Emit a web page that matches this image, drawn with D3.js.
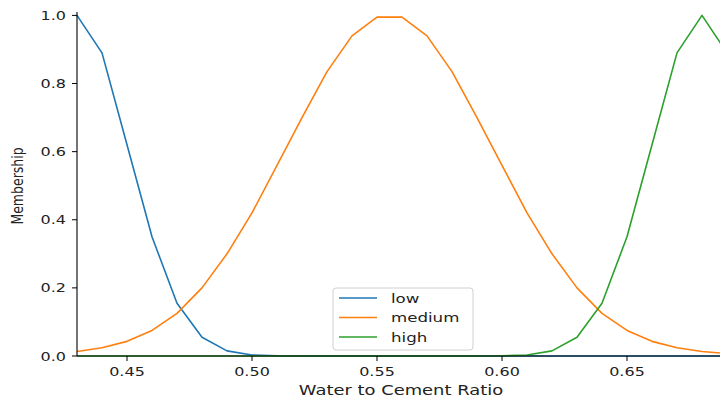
<!DOCTYPE html>
<html><head><meta charset="utf-8">
<script src="https://cdn.jsdelivr.net/npm/d3@7"></script>
<style>body{margin:0;background:#fff}svg{display:block}</style>
</head><body>
<script>
const xValues = [0.43,0.44,0.45,0.46,0.47,0.48,0.49,0.50,0.51,0.52,0.53,0.54,0.55,0.56,0.57,0.58,0.59,0.60,0.61,0.62,0.63,0.64,0.65,0.66,0.67,0.68,0.69];
const lowValues = [1.0,0.89,0.62,0.35,0.155,0.055,0.015,0.003,0.0006,0,0,0,0,0,0,0,0,0,0,0,0,0,0,0,0,0,0];
const mediumValues = [0.013,0.024,0.043,0.075,0.125,0.20,0.30,0.42,0.56,0.70,0.835,0.94,0.995,0.995,0.94,0.835,0.70,0.56,0.42,0.30,0.20,0.125,0.075,0.043,0.024,0.013,0.007];
const highValues = [0,0,0,0,0,0,0,0,0,0,0,0,0,0,0,0,0,0.0006,0.003,0.015,0.055,0.155,0.35,0.62,0.89,1.0,0.89];
const seriesNames = ["low","medium","high"];
const seriesColors = ["#1f77b4","#ff7f0e","#2ca02c"];
const xTicks = [0.45,0.50,0.55,0.60,0.65];
const yTicks = [0.0,0.2,0.4,0.6,0.8,1.0];
const xLabel = "Water to Cement Ratio";
const yLabel = "Membership";

const W = 720, H = 400;
const svg = d3.select("body").append("svg").attr("width", W).attr("height", H);
const x = d3.scaleLinear().domain([0.43, 0.69]).range([77, 727]);
const y = d3.scaleLinear().domain([0, 1.01]).range([356, 12]);
const SX = 1.28;
const font = "DejaVu Sans, sans-serif";

const series = [lowValues, mediumValues, highValues];
const line = d3.line().x((d,i)=>x(xValues[i])).y(d=>y(d));
series.forEach((vals, k) => {
  svg.append("path").datum(vals).attr("d", line)
    .attr("fill","none").attr("stroke", seriesColors[k]).attr("stroke-width",1.6)
    .attr("stroke-linejoin","round");
});

// spines
svg.append("line").attr("x1",77).attr("x2",77).attr("y1",y(1.01)).attr("y2",356).attr("stroke","#000").attr("stroke-width",1.1);
svg.append("line").attr("x1",77).attr("x2",W).attr("y1",356).attr("y2",356).attr("stroke","#000").attr("stroke-width",1.1);

// y ticks
yTicks.forEach(t => {
  const yy = y(t);
  svg.append("line").attr("x1",72).attr("x2",77).attr("y1",yy).attr("y2",yy).attr("stroke","#000").attr("stroke-width",1);
  svg.append("text").attr("transform",`translate(66,${yy}) scale(${SX},1)`)
    .attr("text-anchor","end").attr("dy","0.36em").attr("font-family",font).attr("font-size",12.5).attr("fill","#222")
    .text(d3.format(".1f")(t));
});
// x ticks
xTicks.forEach(t => {
  const xx = x(t);
  svg.append("line").attr("x1",xx).attr("x2",xx).attr("y1",356).attr("y2",361).attr("stroke","#000").attr("stroke-width",1);
  svg.append("text").attr("transform",`translate(${xx},376) scale(${SX},1)`)
    .attr("text-anchor","middle").attr("font-family",font).attr("font-size",12.5).attr("fill","#222")
    .text(d3.format(".2f")(t));
});
// axis labels
svg.append("text").attr("transform",`translate(401,395) scale(${SX},1)`)
  .attr("text-anchor","middle").attr("font-family",font).attr("font-size",14).attr("fill","#222").text(xLabel);
svg.append("text").attr("transform",`translate(23,186) rotate(-90) scale(1,${SX})`)
  .attr("text-anchor","middle").attr("font-family",font).attr("font-size",12.5).attr("fill","#222").text(yLabel);

// legend
const lg = svg.append("g");
lg.append("rect").attr("x",333).attr("y",288).attr("width",140).attr("height",62).attr("rx",3)
  .attr("fill","#fff").attr("fill-opacity",0.8).attr("stroke","#d0d0d0").attr("stroke-width",1);
seriesNames.forEach((n,k) => {
  const yy = 298 + k*19.5;
  lg.append("line").attr("x1",339).attr("x2",377).attr("y1",yy).attr("y2",yy).attr("stroke",seriesColors[k]).attr("stroke-width",1.6);
  lg.append("text").attr("transform",`translate(391,${yy}) scale(${SX},1)`).attr("dy","0.36em")
    .attr("font-family",font).attr("font-size",13).attr("fill","#222").text(n);
});
</script>
</body></html>
